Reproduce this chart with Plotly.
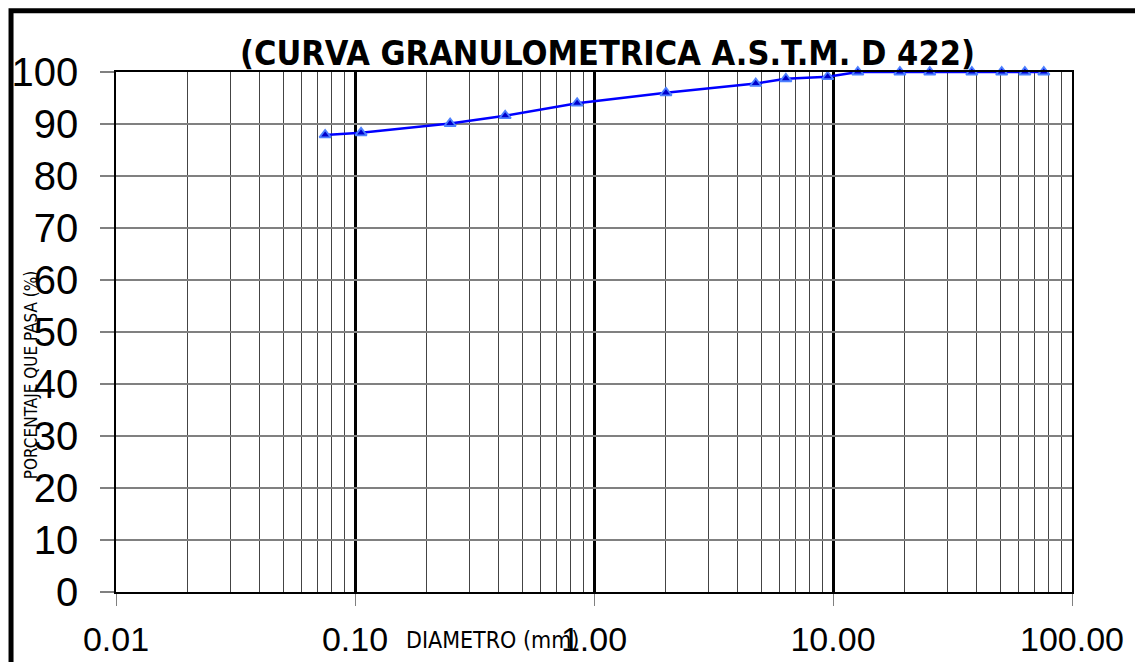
import plotly.graph_objects as go

diametro = [0.075, 0.106, 0.25, 0.425, 0.85, 2.0, 4.75, 6.35, 9.5, 12.7, 19.05, 25.4, 38.1, 50.8, 63.5, 76.2]
pasa = [87.9, 88.3, 90.1, 91.6, 94.0, 96.0, 97.8, 98.7, 99.1, 100, 100, 100, 100, 100, 100, 100]

x_tickvals = [0.01, 0.1, 1, 10, 100]
x_ticktext = ["0.01", "0.10", "1.00", "10.00", "100.00"]
y_tickvals = [0, 10, 20, 30, 40, 50, 60, 70, 80, 90, 100]
minor_vals = [m * d for d in [0.01, 0.1, 1, 10] for m in range(2, 10)]

titulo = "(CURVA GRANULOMETRICA A.S.T.M. D 422)"
x_titulo = "DIAMETRO (mm)"
y_titulo = "PORCENTAJE QUE PASA (%)"

fig = go.Figure()
fig.add_trace(go.Scatter(
    x=diametro, y=pasa, mode="lines+markers",
    line=dict(color="#0000ff", width=2.5),
    marker=dict(symbol="triangle-up", size=10, color="#0000cc",
                line=dict(color="#4d80ff", width=1.8)),
    showlegend=False, cliponaxis=False,
))

fig.update_xaxes(
    type="log", range=[-2, 2], automargin=False,
    tickvals=x_tickvals, ticktext=x_ticktext,
    showgrid=True, gridcolor="#000000", gridwidth=2.5,
    ticks="outside", ticklen=12, tickcolor="#808080", tickwidth=1,
    tickfont=dict(family="Liberation Sans", size=34, color="#000000"),
    ticklabelstandoff=4,
    minor=dict(tickvals=minor_vals, showgrid=True, gridcolor="#444444", gridwidth=1, ticks=""),
    showline=True, linecolor="#000000", linewidth=2, mirror=True,
    zeroline=False,
)
fig.update_yaxes(
    range=[0, 100], tickvals=y_tickvals, automargin=False,
    showgrid=True, gridcolor="#808080", gridwidth=1.5,
    ticks="outside", ticklen=14, tickcolor="#808080", tickwidth=1.5,
    tickfont=dict(family="Liberation Sans", size=40, color="#000000"),
    ticklabelstandoff=14,
    showline=True, linecolor="#000000", linewidth=1.5, mirror=True,
    zeroline=False,
)

fig.add_annotation(text=titulo, xref="paper", yref="paper", x=0.514, y=1.0365,
                   xanchor="center", yanchor="middle", showarrow=False,
                   font=dict(family="DejaVu Sans Condensed", size=34, color="#000000", weight="bold"))
fig.add_annotation(text=x_titulo, xref="paper", yref="paper", x=0.394, y=-0.092,
                   xanchor="center", yanchor="middle", showarrow=False,
                   font=dict(family="DejaVu Sans Condensed", size=23, color="#000000"))
fig.add_annotation(text=y_titulo, xref="paper", yref="paper", x=-0.0889, y=0.417,
                   xanchor="center", yanchor="middle", showarrow=False, textangle=-90,
                   font=dict(family="DejaVu Sans Condensed", size=17, color="#000000"))

# outer frame
fig.add_shape(type="rect", xref="paper", yref="paper",
              x0=-0.1098, x1=1.2, y0=-0.3, y1=1.118,
              line=dict(color="#000000", width=5), fillcolor="rgba(0,0,0,0)", layer="above")

fig.update_layout(
    width=1135, height=662,
    margin=dict(l=116, r=63, t=72, b=70),
    paper_bgcolor="#ffffff", plot_bgcolor="#ffffff",
)

fig.write_html("out.html")
